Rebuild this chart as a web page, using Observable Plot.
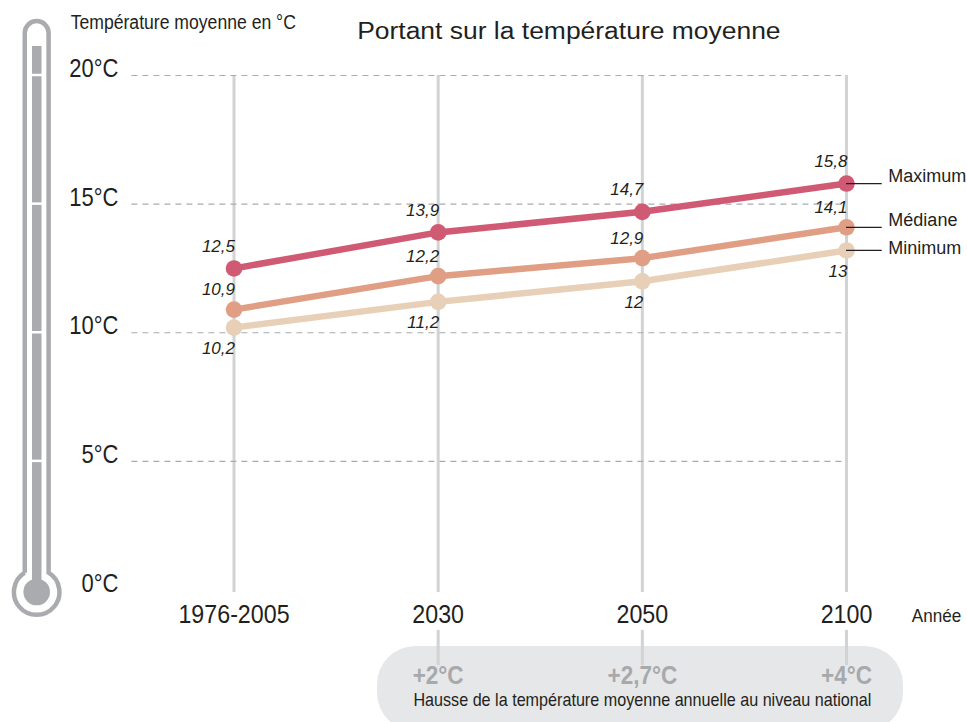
<!DOCTYPE html>
<html lang="fr"><head><meta charset="utf-8">
<script src="https://cdn.jsdelivr.net/npm/d3@7"></script>
<script src="https://cdn.jsdelivr.net/npm/@observablehq/plot@0.6"></script>
<style>html,body{margin:0;padding:0;background:#fff;overflow:hidden}</style>
</head><body><div id="chart"></div>
<script>
const periods = ["1976-2005", "2030", "2050", "2100"];
const maximum = [12.5, 13.9, 14.7, 15.8];
const mediane = [10.9, 12.2, 12.9, 14.1];
const minimum = [10.2, 11.2, 12, 13.2];
const minimumLabels = ["10,2", "11,2", "12", "13"];
const hausse = [null, "+2°C", "+2,7°C", "+4°C"];
const seriesNames = ["Maximum", "Médiane", "Minimum"];
const seriesLabelY = [16.08, 14.37, 13.28];
const colors = ["#d05a74", "#e09f84", "#e8d0b8"];
const yTicks = [0, 5, 10, 15, 20];
const font = "Liberation Sans, Arial, sans-serif";
const ink = "#231f20";

const idx = periods.map((_, i) => i);
const rows = (vals, s) => vals.map((v, i) => ({i, v, s}));
const series = [rows(minimum, 2), rows(mediane, 1), rows(maximum, 0)];
const ends = [maximum[3], mediane[3], minimum[3]];
const fmt = v => String(v).replace(".", ",");

function thermometer(index, scales) {
  const g = d3.create("svg:g");
  const c = "#a9abae";
  g.append("path").attr("fill", "none").attr("stroke", c).attr("stroke-width", 4.5)
    .attr("d", "M24.75,572.7V33A11.9,11.9 0 0 1 48.6,33V572.7A22.75,22.75 0 1 1 24.75,572.7");
  g.append("rect").attr("x", 32).attr("y", 46).attr("width", 9.5).attr("height", 546).attr("fill", c);
  g.append("circle").attr("cx", 36.7).attr("cy", 592).attr("r", 13.3).attr("fill", c);
  for (const t of yTicks.slice(1)) {
    g.append("line").attr("x1", 31).attr("x2", 42.5).attr("y1", scales.y(t)).attr("y2", scales.y(t))
      .attr("stroke", "#fff").attr("stroke-width", 2.5);
  }
  return g.node();
}

const condense = (cls, k) => d3.select(chart).selectAll(`.${cls} text`).each(function () {
  const w = this.getComputedTextLength();
  if (w > 0) { this.setAttribute("textLength", w * k); this.setAttribute("lengthAdjust", "spacingAndGlyphs"); }
});

const chart = Plot.plot({
  width: 967, height: 722,
  marginLeft: 233.5, marginRight: 121, marginTop: 75, marginBottom: 132.5,
  style: {fontFamily: font, background: "#fff", overflow: "hidden"},
  x: {domain: [0, 3], axis: null},
  y: {domain: [0, 20], axis: null},
  marks: [
    Plot.rect([0], {x1: 0.703, x2: 3.279, y1: -2.2, y2: -5.5, fill: "#e6e7e8", rx: 38}),
    thermometer,
    Plot.ruleX(idx, {x: d => d, y1: 20, y2: -0.1, stroke: "#d1d3d4", strokeWidth: 3}),
    Plot.ruleX(idx.slice(1), {x: d => d, y1: -1.57, y2: -2.94, stroke: "#d1d3d4", strokeWidth: 3}),
    Plot.ruleY(yTicks.slice(1), {y: d => d, x1: -0.5, x2: 3, stroke: "#a9abae", strokeWidth: 1.2, strokeDasharray: "6 5"}),
    Plot.axisY({ticks: yTicks, tickSize: 0, tickPadding: 115.5, tickFormat: d => d + "°C", fontSize: 25, dy: -6.5, fill: ink, label: null, className: "c88"}),
    Plot.axisX({ticks: idx, tickSize: 0, tickPadding: 15, tickFormat: i => periods[i], fontSize: 25, fill: ink, label: null, textAnchor: "middle", className: "c93"}),
    Plot.text(idx.slice(1), {x: d => d, y: -3.36, text: i => hausse[i], fill: "#a7a9ac", fontSize: 25, fontWeight: "bold", textAnchor: "middle", className: "c90"}),
    Plot.text(["Hausse de la température moyenne annuelle au niveau national"], {x: 2, y: -4.28, text: d => d, fill: ink, fontSize: 19, textAnchor: "middle", className: "c85"}),
    Plot.text(["Température moyenne en °C"], {x: -0.8, y: 22.07, text: d => d, fill: ink, fontSize: 20, textAnchor: "start", className: "c885"}),
    Plot.text(["Année"], {x: 3.32, y: -1, text: d => d, fill: ink, fontSize: 19, textAnchor: "start", className: "c90"}),
    Plot.text(["Portant sur la température moyenne"], {x: 1.64, y: 21.7, text: d => d, fill: ink, fontSize: 23, textAnchor: "middle", className: "c115"}),
    ...series.map(r => Plot.line(r, {x: "i", y: "v", stroke: colors[r[0].s], strokeWidth: 6.5})),
    ...series.map(r => Plot.dot(r, {x: "i", y: "v", fill: colors[r[0].s], r: 8.3})),
    Plot.ruleY(ends, {y: d => d, x1: 3, x2: 3.175, stroke: ink, strokeWidth: 1.2}),
    Plot.text(seriesNames, {x: 3.205, y: (d, i) => seriesLabelY[i], text: d => d, fill: ink, fontSize: 18, textAnchor: "start"}),
    Plot.text(rows(maximum, 0), {x: "i", y: "v", text: d => fmt(d.v), dx: 1, dy: -22, textAnchor: "end", fontStyle: "italic", fontSize: 17, fill: ink}),
    Plot.text(rows(mediane, 1), {x: "i", y: "v", text: d => fmt(d.v), dx: 1, dy: -20, textAnchor: "end", fontStyle: "italic", fontSize: 17, fill: ink}),
    Plot.text(rows(minimum, 2), {x: "i", y: "v", text: (d, i) => minimumLabels[i], dx: 1, dy: 21, textAnchor: "end", fontStyle: "italic", fontSize: 17, fill: ink})
  ]
});
document.getElementById("chart").append(chart);
// Condensed or widened look of the original typeface
[["c88", 0.88], ["c93", 0.93], ["c90", 0.9], ["c85", 0.85], ["c885", 0.88], ["c115", 1.15]].forEach(([c, k]) => condense(c, k));
</script></body></html>
